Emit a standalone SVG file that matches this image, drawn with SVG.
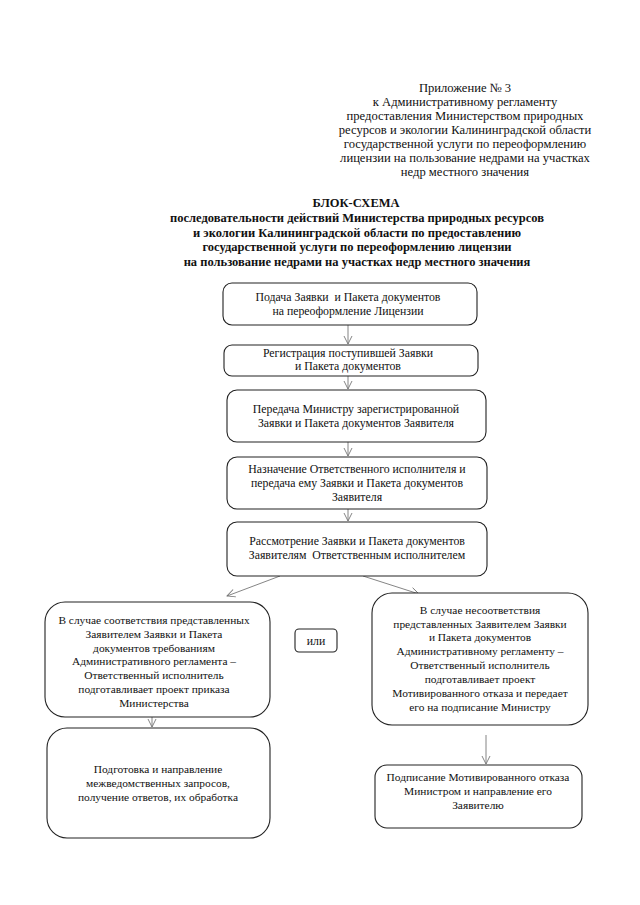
<svg xmlns="http://www.w3.org/2000/svg" width="640" height="905" viewBox="0 0 640 905">
<style>
text{font-family:"Liberation Serif","Times New Roman",serif;fill:#111;text-anchor:middle;white-space:pre}
.h{font-size:12.6px}
.t{font-size:12.5px;font-weight:bold}
.b{font-size:11.8px}
.s{font-size:11.4px}
.box{fill:#fff;stroke:#222;stroke-width:1.1}
.c{stroke:#777;stroke-width:0.9;fill:none}
</style>
<defs>
<marker id="a" markerWidth="10" markerHeight="10" refX="9" refY="5" orient="auto" markerUnits="userSpaceOnUse">
<path d="M1,1 L9,5 L1,9" fill="none" stroke="#777" stroke-width="0.9"/>
</marker>
</defs>
<rect width="640" height="905" fill="#fff"/>
<g id="header">
<text class="h" x="465" y="92">Приложение № 3</text>
<text class="h" x="465" y="106">к Административному регламенту</text>
<text class="h" x="465" y="120">предоставления Министерством природных</text>
<text class="h" x="465" y="134">ресурсов и экологии Калининградской области</text>
<text class="h" x="465" y="148">государственной услуги по переоформлению</text>
<text class="h" x="465" y="162">лицензии на пользование недрами на участках</text>
<text class="h" x="465" y="176">недр местного значения</text>
</g>
<g id="title">
<text class="t" x="356" y="207">БЛОК-СХЕМА</text>
<text class="t" x="357" y="222">последовательности действий Министерства природных ресурсов</text>
<text class="t" x="357" y="237">и экологии Калининградской области по предоставлению</text>
<text class="t" x="357" y="251">государственной услуги по переоформлению лицензии</text>
<text class="t" x="357" y="266">на пользование недрами на участках недр местного значения</text>
</g>
<g id="connectors">
<line class="c" x1="348" y1="325" x2="348" y2="344" marker-end="url(#a)"/>
<line class="c" x1="348" y1="376" x2="348" y2="389" marker-end="url(#a)"/>
<line class="c" x1="348" y1="442" x2="348" y2="456" marker-end="url(#a)"/>
<line class="c" x1="348" y1="509" x2="348" y2="521" marker-end="url(#a)"/>
<line class="c" x1="280" y1="576" x2="227" y2="596" marker-end="url(#a)"/>
<line class="c" x1="363" y1="576" x2="419" y2="594" marker-end="url(#a)"/>
<line class="c" x1="152" y1="716" x2="152" y2="727" marker-end="url(#a)"/>
<line class="c" x1="486" y1="735" x2="486" y2="764" marker-end="url(#a)"/>
</g>
<g id="n1">
<rect class="box" x="223" y="283" width="254" height="42" rx="9"/>
<text class="b" x="348" y="301">Подача Заявки  и Пакета документов</text>
<text class="b" x="348" y="315">на переоформление Лицензии</text>
</g>
<g id="n2">
<rect class="box" x="224" y="345" width="254" height="31" rx="8"/>
<text class="b" x="348" y="357">Регистрация поступившей Заявки</text>
<text class="b" x="348" y="370">и Пакета документов</text>
</g>
<g id="n3">
<rect class="box" x="227" y="390" width="259" height="52" rx="10"/>
<text class="b" x="356" y="413">Передача Министру зарегистрированной</text>
<text class="b" x="356" y="427">Заявки и Пакета документов Заявителя</text>
</g>
<g id="n4">
<rect class="box" x="227" y="457" width="260" height="52" rx="10"/>
<text class="b" x="357" y="473">Назначение Ответственного исполнителя и</text>
<text class="b" x="357" y="487">передача ему Заявки и Пакета документов</text>
<text class="b" x="357" y="501">Заявителя</text>
</g>
<g id="n5">
<rect class="box" x="227" y="522" width="260" height="54" rx="10"/>
<text class="b" x="357" y="545">Рассмотрение Заявки и Пакета документов</text>
<text class="b" x="357" y="559">Заявителям  Ответственным исполнителем</text>
</g>
<g id="n6">
<rect class="box" x="45" y="602" width="225" height="115" rx="20"/>
<text class="s" x="154" y="624">В случае соответствия представленных</text>
<text class="s" x="154" y="638">Заявителем Заявки и Пакета</text>
<text class="s" x="154" y="652">документов требованиям</text>
<text class="s" x="154" y="665">Административного регламента –</text>
<text class="s" x="154" y="679">Ответственный исполнитель</text>
<text class="s" x="154" y="693">подготавливает проект приказа</text>
<text class="s" x="154" y="707">Министерства</text>
</g>
<g id="n7">
<rect class="box" x="295" y="629" width="42" height="23" rx="4"/>
<text class="b" x="316" y="645">или</text>
</g>
<g id="n8">
<rect class="box" x="372" y="593" width="216" height="132" rx="20"/>
<text class="s" x="480" y="614">В случае несоответствия</text>
<text class="s" x="480" y="628">представленных Заявителем Заявки</text>
<text class="s" x="480" y="641">и Пакета документов</text>
<text class="s" x="480" y="655">Административному регламенту –</text>
<text class="s" x="480" y="669">Ответственный исполнитель</text>
<text class="s" x="480" y="683">подготавливает проект</text>
<text class="s" x="480" y="697">Мотивированного отказа и передает</text>
<text class="s" x="480" y="711">его на подписание Министру</text>
</g>
<g id="n9">
<rect class="box" x="47" y="728" width="223" height="110" rx="20"/>
<text class="s" x="158" y="773">Подготовка и направление</text>
<text class="s" x="158" y="787">межведомственных запросов,</text>
<text class="s" x="158" y="801">получение ответов, их обработка</text>
</g>
<g id="n10">
<rect class="box" x="375" y="765" width="207" height="63" rx="12"/>
<text class="s" x="478" y="781">Подписание Мотивированного отказа</text>
<text class="s" x="478" y="795">Министром и направление его</text>
<text class="s" x="478" y="809">Заявителю</text>
</g>
</svg>
